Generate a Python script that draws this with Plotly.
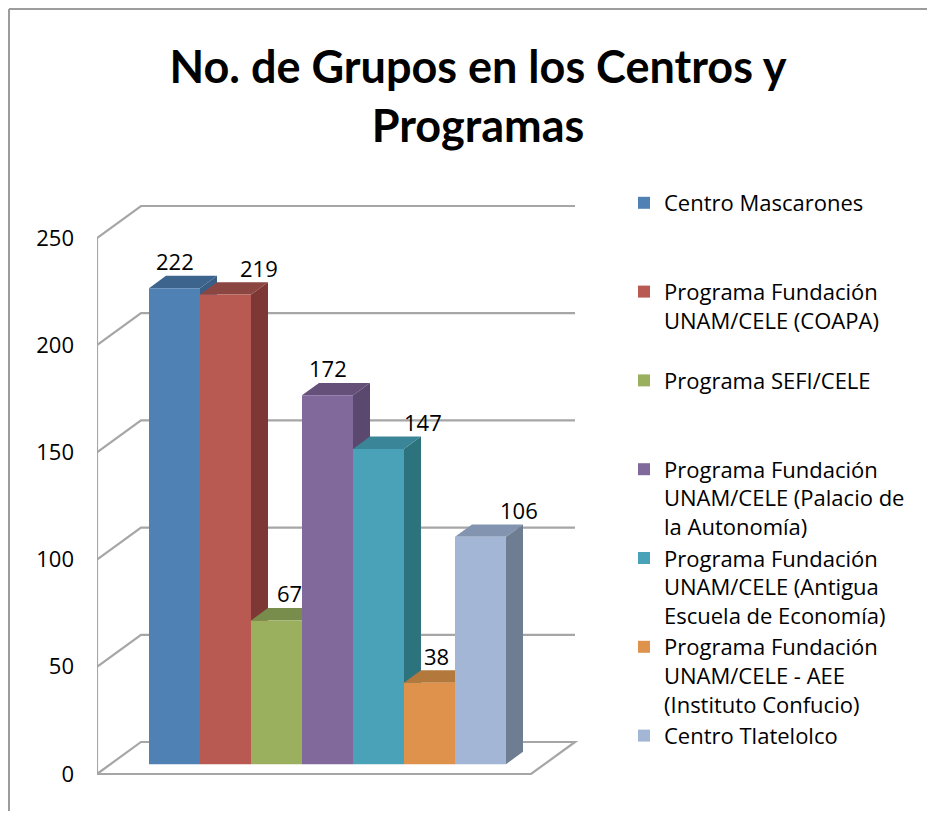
import plotly.graph_objects as go

# ---------------- data ----------------
categories = [
    "Centro Mascarones",
    "Programa Fundación UNAM/CELE (COAPA)",
    "Programa SEFI/CELE",
    "Programa Fundación UNAM/CELE (Palacio de la Autonomía)",
    "Programa Fundación UNAM/CELE (Antigua Escuela de Economía)",
    "Programa Fundación UNAM/CELE - AEE (Instituto Confucio)",
    "Centro Tlatelolco",
]
legend_labels = [
    "Centro Mascarones",
    "Programa Fundación<br>UNAM/CELE (COAPA)",
    "Programa SEFI/CELE",
    "Programa Fundación<br>UNAM/CELE (Palacio de<br>la Autonomía)",
    "Programa Fundación<br>UNAM/CELE (Antigua<br>Escuela de Economía)",
    "Programa Fundación<br>UNAM/CELE - AEE<br>(Instituto Confucio)",
    "Centro Tlatelolco",
]
values = [222, 219, 67, 172, 147, 38, 106]
y_ticks = [0, 50, 100, 150, 200, 250]
title_text = "No. de Grupos en los Centros y<br>Programas"

# ---------------- styles ----------------
front_colors = ["#4F81B4", "#B85A52", "#9BB05E", "#82699C", "#4AA2B8", "#DE924C", "#A3B6D6"]
top_colors = ["#3C648C", "#8C4641", "#788C4B", "#645078", "#3A8597", "#B2783C", "#8294AF"]
side_colors = ["#395E86", "#7D3734", "#6D7F41", "#5A486E", "#2D737D", "#A96F36", "#6E7D91"]
label_dx = [0.0, 0.65, 0.26, 0.0, 0.87, 0.13, 0.75]
TITLE_FONT = "Lato, 'Open Sans', sans-serif"
FONT = "'Open Sans', 'Noto Sans', sans-serif"
GRID = "#A6A6A6"

# figure / plot-area geometry (page offset of 8 px from the html body margin)
FIG_W, FIG_H = 919, 803
M_L, M_R, M_T, M_B = 89, 327, 172, 11
PLOT_W = FIG_W - M_L - M_R
PLOT_H = FIG_H - M_T - M_B

# pseudo-3D geometry (axis units)
BASE = 4.6              # bar plane above front floor edge
BDX, BDY = 0.333, 5.8   # bar depth
WDX, WDY = 0.863, 14.93 # wall depth
X_WALL = -1.52
X_FLOOR_R = 6.99
LABEL_UP = 12.6

fig = go.Figure()

shapes = []
# floor
shapes.append(dict(type="path", xref="x", yref="y", layer="below",
                   path=f"M{X_WALL},0 L{X_FLOOR_R},0 L{X_FLOOR_R+WDX},{WDY} L{X_WALL+WDX},{WDY} Z",
                   line=dict(color=GRID, width=2.2), fillcolor="rgba(0,0,0,0)"))
# left wall front edge
shapes.append(dict(type="line", xref="x", yref="y", layer="below",
                   x0=X_WALL, x1=X_WALL, y0=0, y1=max(y_ticks),
                   line=dict(color=GRID, width=2.2)))
# gridlines (left wall + back wall)
for t in y_ticks[1:]:
    shapes.append(dict(type="path", xref="x", yref="y", layer="below",
                       path=f"M{X_WALL},{t} L{X_WALL+WDX},{t+WDY} L{X_FLOOR_R+WDX},{t+WDY}",
                       line=dict(color=GRID, width=2.2)))
# bar tops and sides
for i, v in enumerate(values):
    x0, x1, yt = i - 0.5, i + 0.5, BASE + v
    shapes.append(dict(type="path", xref="x", yref="y", layer="below",
                       path=f"M{x0},{yt} L{x1},{yt} L{x1+BDX},{yt+BDY} L{x0+BDX},{yt+BDY} Z",
                       fillcolor=top_colors[i], line=dict(width=0)))
    shapes.append(dict(type="path", xref="x", yref="y", layer="below",
                       path=f"M{x1},{BASE} L{x1},{yt} L{x1+BDX},{yt+BDY} L{x1+BDX},{BASE+BDY} Z",
                       fillcolor=side_colors[i], line=dict(width=0)))
# chart frame (top and left edges only)
fx = (1 - M_L) / PLOT_W
fy = (FIG_H - 1 - M_B) / PLOT_H
fyb = -M_B / PLOT_H
fxr = (FIG_W + 4 - M_L) / PLOT_W
shapes.append(dict(type="line", xref="paper", yref="paper", x0=fx, x1=fx, y0=fyb, y1=fy,
                   line=dict(color="#9C9C9C", width=2)))
shapes.append(dict(type="line", xref="paper", yref="paper", x0=fx, x1=fxr, y0=fy, y1=fy,
                   line=dict(color="#9C9C9C", width=2)))

for i, (cat, lab, v) in enumerate(zip(categories, legend_labels, values)):
    n = lab.count("<br>") + 1
    padded = lab + "<br>&nbsp;" * (3 - n)
    fig.add_trace(go.Bar(
        x=[i], y=[v], base=[BASE], width=1.0, name=padded,
        marker=dict(color=front_colors[i], line=dict(width=0)),
        hovertext=cat, hoverinfo="text+y",
    ))

annotations = []
for i, v in enumerate(values):
    annotations.append(dict(x=i + label_dx[i], y=BASE + v + LABEL_UP, xref="x", yref="y",
                            text=str(v), showarrow=False,
                            font=dict(family=FONT, size=22, color="black")))

fig.update_layout(
    width=FIG_W, height=FIG_H,
    margin=dict(l=M_L, r=M_R, t=M_T, b=M_B, autoexpand=False),
    paper_bgcolor="white", plot_bgcolor="white",
    barmode="overlay",
    showlegend=True,
    title=dict(text=title_text, x=470 / FIG_W, xref="container", xanchor="center",
               y=1 - 75 / FIG_H, yref="container", yanchor="middle",
               font=dict(family=TITLE_FONT, size=45, color="black", weight="bold")),
    xaxis=dict(range=[-1.5196, 8.343], visible=False, fixedrange=True),
    yaxis=dict(range=[-12.13, 277.05], tickvals=y_ticks, showgrid=False, zeroline=False,
               showline=False, ticks="", ticklabelstandoff=22, fixedrange=True,
               tickfont=dict(family=FONT, size=22, color="black")),
    legend=dict(xref="container", yref="container",
                x=616 / FIG_W, xanchor="left", y=1 - 174 / FIG_H, yanchor="top",
                valign="top", maxheight=760,
                font=dict(family=FONT, size=22, color="black"), itemwidth=30,
                bgcolor="rgba(0,0,0,0)", traceorder="normal"),
    shapes=shapes,
    annotations=annotations,
    font=dict(family=FONT),
)

fig.write_html("out.html")
